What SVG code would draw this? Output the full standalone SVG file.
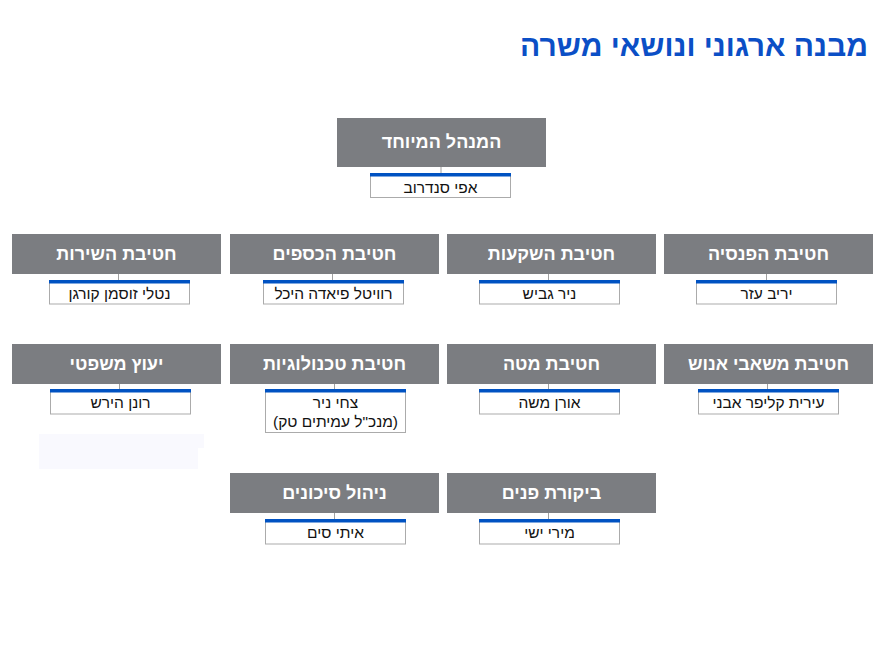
<svg xmlns="http://www.w3.org/2000/svg" width="885" height="660" viewBox="0 0 885 660">
<style>
.unit{fill:#7b7d81}
.ut{fill:#ffffff;font-family:"Liberation Sans",Arial,sans-serif;font-size:18px;font-weight:bold;text-anchor:middle;direction:rtl}
.nb{fill:#ffffff;stroke:#ababab;stroke-width:1}
.bar{fill:#0052c2}
.nt{fill:#111111;font-family:"Liberation Sans",Arial,sans-serif;font-size:15.5px;text-anchor:middle;direction:rtl}
.con{stroke:#a0a0a0;stroke-width:1;fill:none}
.title{fill:#0b4fc6;font-family:"Liberation Sans",Arial,sans-serif;font-size:30px;font-weight:bold;direction:rtl;text-anchor:start}
</style>
<rect width="885" height="660" fill="#ffffff"/>
<text class="title" x="868" y="56">מבנה ארגוני ונושאי משרה</text>
<path d="M39,434 H204 V448 H198 V469 H39 Z" fill="#f9f9fe"/>
<g id="connectors">
<line class="con" x1="441" y1="167" x2="441" y2="173"/>
<line class="con" x1="118.5" y1="274" x2="118.5" y2="280"/>
<line class="con" x1="332.5" y1="274" x2="332.5" y2="280"/>
<line class="con" x1="548.5" y1="274" x2="548.5" y2="280"/>
<line class="con" x1="766.5" y1="274" x2="766.5" y2="280"/>
<line class="con" x1="119.5" y1="384" x2="119.5" y2="389"/>
<line class="con" x1="334.5" y1="384" x2="334.5" y2="389"/>
<line class="con" x1="548.5" y1="384" x2="548.5" y2="389"/>
<line class="con" x1="767.5" y1="384" x2="767.5" y2="389"/>
<line class="con" x1="334.5" y1="513" x2="334.5" y2="519"/>
<line class="con" x1="548.5" y1="513" x2="548.5" y2="519"/>
</g>
<g id="ceo">
<rect class="unit" x="337" y="118" width="209" height="49"/>
<text class="ut" x="441.5" y="148">המנהל המיוחד</text>
<rect class="nb" x="370.5" y="173.5" width="140" height="24"/>
<rect class="bar" x="370" y="173" width="141" height="3.5"/>
<text class="nt" x="440.5" y="193">אפי סנדרוב</text>
</g>
<g id="service">
<rect class="unit" x="12" y="234" width="209" height="40"/>
<text class="ut" x="116.5" y="260">חטיבת השירות</text>
<rect class="nb" x="49.5" y="280.5" width="140" height="23.5"/>
<rect class="bar" x="49" y="280" width="141" height="3.5"/>
<text class="nt" x="119.5" y="299">נטלי זוסמן קורגן</text>
</g>
<g id="finance">
<rect class="unit" x="230" y="234" width="209" height="40"/>
<text class="ut" x="334.5" y="260">חטיבת הכספים</text>
<rect class="nb" x="263.5" y="280.5" width="140" height="23.5"/>
<rect class="bar" x="263" y="280" width="141" height="3.5"/>
<text class="nt" x="333.5" y="299">רוויטל פיאדה היכל</text>
</g>
<g id="investments">
<rect class="unit" x="447" y="234" width="209" height="40"/>
<text class="ut" x="551.5" y="260">חטיבת השקעות</text>
<rect class="nb" x="479.5" y="280.5" width="140" height="23.5"/>
<rect class="bar" x="479" y="280" width="141" height="3.5"/>
<text class="nt" x="549.5" y="299">ניר גביש</text>
</g>
<g id="pension">
<rect class="unit" x="664" y="234" width="209" height="40"/>
<text class="ut" x="768.5" y="260">חטיבת הפנסיה</text>
<rect class="nb" x="696.5" y="280.5" width="140" height="23.5"/>
<rect class="bar" x="696" y="280" width="141" height="3.5"/>
<text class="nt" x="766.5" y="299">יריב עזר</text>
</g>
<g id="legal">
<rect class="unit" x="12" y="344" width="209" height="40"/>
<text class="ut" x="116.5" y="370">יעוץ משפטי</text>
<rect class="nb" x="50.5" y="389.5" width="140" height="24.5"/>
<rect class="bar" x="50" y="389" width="141" height="3.5"/>
<text class="nt" x="120.5" y="408">רונן הירש</text>
</g>
<g id="technology">
<rect class="unit" x="230" y="344" width="209" height="40"/>
<text class="ut" x="334.5" y="370">חטיבת טכנולוגיות</text>
<rect class="nb" x="265.5" y="389.5" width="140" height="43"/>
<rect class="bar" x="265" y="389" width="141" height="3.5"/>
<text class="nt" x="335.5" y="408">צחי ניר</text>
<text class="nt" x="335.5" y="427">(מנכ"ל עמיתים טק)</text>
</g>
<g id="staff">
<rect class="unit" x="447" y="344" width="209" height="40"/>
<text class="ut" x="551.5" y="370">חטיבת מטה</text>
<rect class="nb" x="479.5" y="389.5" width="140" height="24.5"/>
<rect class="bar" x="479" y="389" width="141" height="3.5"/>
<text class="nt" x="549.5" y="408">אורן משה</text>
</g>
<g id="hr">
<rect class="unit" x="664" y="344" width="209" height="40"/>
<text class="ut" x="768.5" y="370">חטיבת משאבי אנוש</text>
<rect class="nb" x="698.5" y="389.5" width="140" height="24.5"/>
<rect class="bar" x="698" y="389" width="141" height="3.5"/>
<text class="nt" x="768.5" y="408">עירית קליפר אבני</text>
</g>
<g id="risk">
<rect class="unit" x="230" y="473" width="209" height="40"/>
<text class="ut" x="334.5" y="499">ניהול סיכונים</text>
<rect class="nb" x="265.5" y="519.5" width="140" height="24.5"/>
<rect class="bar" x="265" y="519" width="141" height="3.5"/>
<text class="nt" x="335.5" y="538">איתי סים</text>
</g>
<g id="audit">
<rect class="unit" x="447" y="473" width="209" height="40"/>
<text class="ut" x="551.5" y="499">ביקורת פנים</text>
<rect class="nb" x="479.5" y="519.5" width="140" height="24.5"/>
<rect class="bar" x="479" y="519" width="141" height="3.5"/>
<text class="nt" x="549.5" y="538">מירי ישי</text>
</g>
</svg>
